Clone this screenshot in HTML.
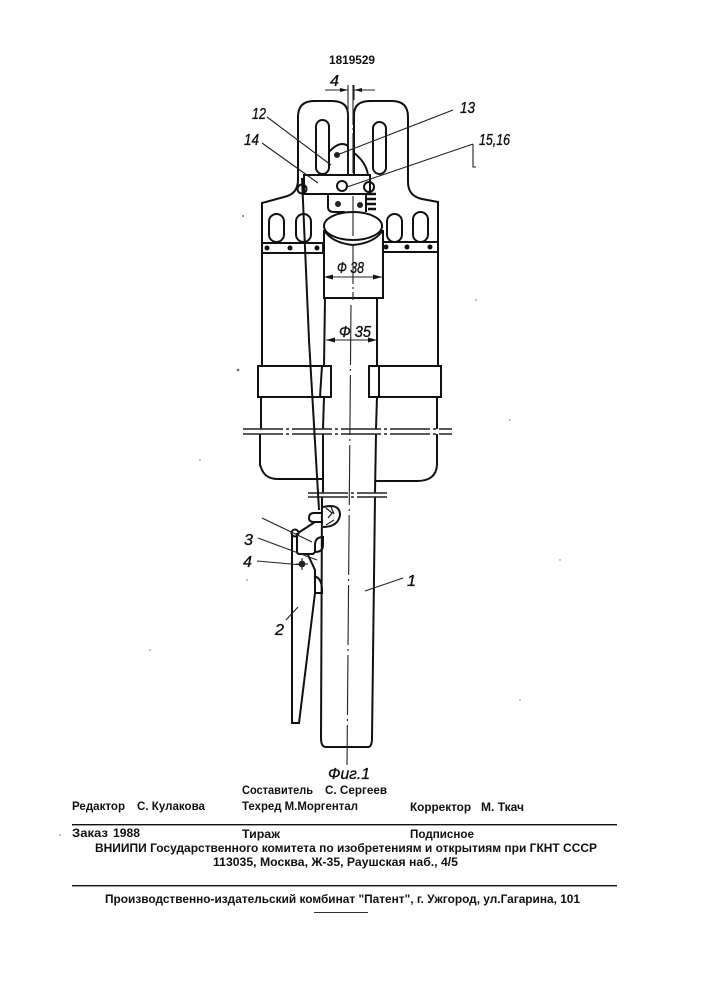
<!DOCTYPE html>
<html><head><meta charset="utf-8"><style>
html,body{margin:0;padding:0;background:#fff}
svg{display:block}
.d{fill:none;stroke:#111;stroke-width:2}
.t{fill:none;stroke:#222;stroke-width:1.1}
.c{fill:none;stroke:#222;stroke-width:1.5;stroke-dasharray:40 3 3 3}
.l{font-family:"Liberation Sans",sans-serif;font-style:italic;font-size:16px;fill:#111;stroke:#111;stroke-width:.35}
.b{font-family:"Liberation Sans",sans-serif;font-size:11.5px;fill:#111;font-weight:bold}
</style></head><body>
<svg width="707" height="1000" viewBox="0 0 707 1000" xmlns="http://www.w3.org/2000/svg">
<rect width="707" height="1000" fill="#fff"/>
<text class="b" x="329" y="64" textLength="46" lengthAdjust="spacingAndGlyphs">1819529</text>
<!-- lobes and body top -->
<path class="d" d="M348 175V115Q348 101 332 101H314Q298 101 298 117V180Q298 194 284 197L262 203V366"/>
<path class="d" d="M354 175V115Q354 101 370 101H392Q408 101 408 117V182Q408 196 422 199L438 202V366"/>
<rect class="d" x="316" y="120" width="13" height="54" rx="6.5"/>
<rect class="d" x="373" y="122" width="13" height="52" rx="6.5"/>
<path class="d" d="M329 152Q340 140 348 146M354 153Q366 162 368 175"/>
<rect class="d" x="304" y="175" width="66" height="19"/>
<path class="d" d="M328 194V207Q328 212 334 212H345M366 194V212"/>
<circle class="d" cx="342" cy="186" r="5"/><circle cx="337" cy="155" r="3" fill="#222"/>
<circle cx="338" cy="204" r="3" fill="#222"/><circle cx="360" cy="205" r="3" fill="#222"/>
<circle class="d" cx="302" cy="189" r="4.5"/>
<circle class="d" cx="369" cy="187" r="5"/>
<path d="M367 194h9M365 199h11M366 204h10M368 209h8" stroke="#111" stroke-width="2.6" fill="none"/>
<!-- small slots -->
<rect class="d" x="269" y="214" width="15" height="28" rx="7.5"/>
<rect class="d" x="296" y="214" width="15" height="28" rx="7.5"/>
<rect class="d" x="387" y="214" width="15" height="28" rx="7.5"/>
<rect class="d" x="413" y="212" width="15" height="30" rx="7.5"/>
<!-- strips -->
<rect class="d" x="262" y="243" width="61" height="10"/>
<rect class="d" x="383" y="242" width="55" height="10"/>
<g fill="#111"><circle cx="267" cy="248" r="2.5"/><circle cx="290" cy="248" r="2.5"/><circle cx="317" cy="248" r="2.5"/><circle cx="386" cy="247" r="2.5"/><circle cx="407" cy="247" r="2.5"/><circle cx="430" cy="247" r="2.5"/></g>
<!-- oval and cylinder -->
<ellipse class="d" cx="353" cy="226" rx="29" ry="14" fill="#fff"/>
<path class="d" d="M324 230Q332 243 353 245Q375 243 383 230"/>
<path class="d" d="M324 230V298H383V230"/>
<path class="t" d="M324 277H382"/>
<path d="M324 277l9-2.5v5zM382 277l-9-2.5v5z" fill="#111"/>
<text class="l" x="337" y="273" font-size="17" textLength="27" lengthAdjust="spacingAndGlyphs">Ф 38</text>
<path class="t" d="M326 340H377"/>
<path d="M326 340l9-2.5v5zM377 340l-9-2.5v5z" fill="#111"/>
<text class="l" x="339" y="337" textLength="32" lengthAdjust="spacingAndGlyphs">Ф 35</text>
<!-- body sides -->
<path class="d" d="M261 397V429M437 397V429"/>
<path class="d" d="M260 434V465L262 470Q266 479 278 479H322"/>
<path class="d" d="M437 434V465Q436 481 417 481H375"/>
<!-- pipe -->
<path class="d" d="M325 298L324 366M324 397L323 429M323 434V493M322 497L321 738Q321 747 326 747H368Q372 747 372 738L375 497M375 493L376 434M376 429L377 397M377 366V298"/>
<!-- bands -->
<rect class="d" x="258" y="366" width="73" height="31"/>
<path class="d" d="M322 366L320 397"/>
<rect class="d" x="369" y="366" width="72" height="31"/>
<path class="d" d="M379 366V397"/>
<!-- break lines -->
<path class="c" d="M243 429H452M243 434H452M308 493H387M308 497H387"/>
<!-- centre line -->
<path class="t" d="M353 85V175M353 196V300" stroke-dasharray="40 3 2 3"/>
<path class="t" d="M351 305L347 765" stroke-dasharray="60 4 2 4" stroke-width="1.3"/>
<path class="t" d="M348 85V175M354 85V100"/>
<path class="t" d="M325 90H348M354 90H375"/>
<path d="M348 90l-8-2v4zM354 90l8-2v4z" fill="#111"/>
<!-- wire -->
<path class="d" d="M302 178L309 340L319 510" stroke-width="1.6"/>
<!-- mechanism -->
<path class="d" d="M322 513H314Q309 513 309 518Q309 522 314 522H323M323 507Q340 503 340 515Q338 527 323 527"/>
<path d="M326 508l6 5M331 507l3 7M326 525l8-5M333 512l-5 6" stroke="#222" stroke-width="1.3"/>
<path class="d" d="M298 533L315 522"/>
<path class="d" d="M297 533V552Q297 554 300 554H313L316 551"/>
<path class="d" d="M315 552Q323 552 323 545V537Q315 537 315 545Z"/>
<circle class="d" cx="295" cy="533" r="3.5" fill="#fff"/>
<path class="d" d="M292 534V723H299L315 593V570L308 555"/>
<path class="d" d="M314 576Q322 578 322 590V593H314"/>
<path class="t" d="M262 518L312 542M258 538L317 560M257 561L302 565M286 620L298 607M365 591L403 578"/>
<circle cx="302" cy="564" r="3.4" fill="#222"/><path class="t" d="M296 564h12M302 558v12"/>
<!-- leaders -->
<path class="t" d="M267 117L331 165M262 143L318 183M453 110L337 155M473 144L347 187M473 144V167H476"/>
<!-- labels -->
<text class="l" x="330" y="86" textLength="9" lengthAdjust="spacingAndGlyphs">4</text>
<text class="l" x="252" y="119" textLength="14" lengthAdjust="spacingAndGlyphs">12</text>
<text class="l" x="244" y="145" textLength="15" lengthAdjust="spacingAndGlyphs">14</text>
<text class="l" x="460" y="113" textLength="15" lengthAdjust="spacingAndGlyphs">13</text>
<text class="l" x="479" y="145" textLength="31" lengthAdjust="spacingAndGlyphs">15,16</text>
<text class="l" x="244" y="545" textLength="9" lengthAdjust="spacingAndGlyphs">3</text>
<text class="l" x="243" y="567" textLength="9" lengthAdjust="spacingAndGlyphs">4</text>
<text class="l" x="275" y="635" textLength="9" lengthAdjust="spacingAndGlyphs">2</text>
<text class="l" x="407" y="586" textLength="9" lengthAdjust="spacingAndGlyphs">1</text>
<text class="l" x="328" y="779" font-size="21" textLength="42" lengthAdjust="spacingAndGlyphs">Фиг.1</text>
<!-- text block -->
<text class="b" x="242" y="794" textLength="71" lengthAdjust="spacingAndGlyphs">Составитель</text>
<text class="b" x="325" y="794" textLength="62" lengthAdjust="spacingAndGlyphs">С. Сергеев</text>
<text class="b" x="72" y="810" textLength="53" lengthAdjust="spacingAndGlyphs">Редактор</text>
<text class="b" x="137" y="810" textLength="68" lengthAdjust="spacingAndGlyphs">С. Кулакова</text>
<text class="b" x="242" y="810" textLength="116" lengthAdjust="spacingAndGlyphs">Техред М.Моргентал</text>
<text class="b" x="410" y="811" textLength="61" lengthAdjust="spacingAndGlyphs">Корректор</text>
<text class="b" x="481" y="811" textLength="43" lengthAdjust="spacingAndGlyphs">М. Ткач</text>
<rect x="72" y="824" width="545" height="1.4" fill="#111"/>
<text class="b" x="72" y="837" textLength="36" lengthAdjust="spacingAndGlyphs">Заказ</text>
<text class="b" x="113" y="837" textLength="27" lengthAdjust="spacingAndGlyphs">1988</text>
<text class="b" x="242" y="838" textLength="38" lengthAdjust="spacingAndGlyphs">Тираж</text>
<text class="b" x="410" y="838" textLength="64" lengthAdjust="spacingAndGlyphs">Подписное</text>
<text class="b" x="95" y="852" textLength="502" lengthAdjust="spacingAndGlyphs">ВНИИПИ Государственного комитета по изобретениям и открытиям при ГКНТ СССР</text>
<text class="b" x="213" y="866" textLength="245" lengthAdjust="spacingAndGlyphs">113035, Москва, Ж-35, Раушская наб., 4/5</text>
<rect x="72" y="885" width="545" height="1.4" fill="#111"/>
<text class="b" x="105" y="903" textLength="475" lengthAdjust="spacingAndGlyphs">Производственно-издательский комбинат "Патент", г. Ужгород, ул.Гагарина, 101</text>
<rect x="314" y="912" width="54" height="1" fill="#333"/>
<!-- specks -->
<g fill="#777"><circle cx="243" cy="216" r="1"/><circle cx="238" cy="370" r="1.4"/><circle cx="476" cy="300" r="0.8"/><circle cx="510" cy="420" r="0.8"/><circle cx="200" cy="460" r="0.8"/><circle cx="247" cy="580" r="0.8"/><circle cx="150" cy="650" r="0.7"/><circle cx="560" cy="560" r="0.7"/><circle cx="520" cy="700" r="0.7"/><circle cx="60" cy="835" r="0.8"/></g>
</svg>
</body></html>
